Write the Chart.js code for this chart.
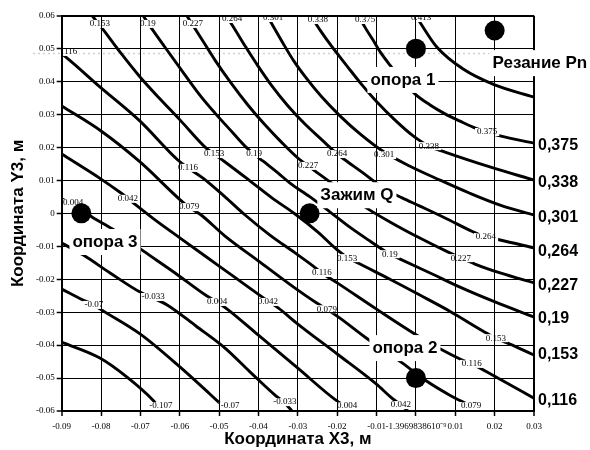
<!DOCTYPE html>
<html>
<head>
<meta charset="utf-8">
<script src="https://cdn.jsdelivr.net/npm/chart.js@4/dist/chart.umd.min.js"></script>
<style>
  body { margin: 0; background: #fff; }
  #wrap { width: 590px; height: 450px; }
</style>
</head>
<body>
<div id="wrap"><canvas id="chart" width="590" height="450"></canvas></div>
<script>
// Axis ticks
const xTicks = [-0.09, -0.08, -0.07, -0.06, -0.05, -0.04, -0.03, -0.02, -0.01, 0, 0.01, 0.02, 0.03];
const xTickLabels = ['-0.09', '-0.08', '-0.07', '-0.06', '-0.05', '-0.04', '-0.03', '-0.02', '-0.01', '-1.3969838610\u207B\u2079', '0.01', '0.02', '0.03'];
const yTicks = [-0.06, -0.05, -0.04, -0.03, -0.02, -0.01, 0, 0.01, 0.02, 0.03, 0.04, 0.05, 0.06];
const yTickLabels = ['-0.06', '-0.05', '-0.04', '-0.03', '-0.02', '-0.01', '0', '0.01', '0.02', '0.03', '0.04', '0.05', '0.06'];

// Contour lines, traced as [x, y]
const line_413 = [[0.0000, 0.0600], [0.0013, 0.0575], [0.0053, 0.0505], [0.0120, 0.0438], [0.0200, 0.0390], [0.0300, 0.0353]];
const line_375 = [[-0.0145, 0.0600], [-0.0130, 0.0566], [-0.0109, 0.0526], [-0.0089, 0.0487], [-0.0066, 0.0450], [-0.0035, 0.0405], [-0.0002, 0.0362], [0.0036, 0.0329], [0.0074, 0.0302], [0.0112, 0.0280], [0.0145, 0.0262], [0.0181, 0.0247], [0.0214, 0.0235], [0.0300, 0.0213]];
const line_338 = [[-0.0267, 0.0600], [-0.0244, 0.0557], [-0.0211, 0.0502], [-0.0175, 0.0447], [-0.0137, 0.0390], [-0.0099, 0.0338], [-0.0053, 0.0283], [-0.0007, 0.0235], [0.0033, 0.0204], [0.0074, 0.0186], [0.0188, 0.0141], [0.0300, 0.0101]];
const line_301 = [[-0.0378, 0.0600], [-0.0363, 0.0569], [-0.0338, 0.0517], [-0.0310, 0.0462], [-0.0277, 0.0408], [-0.0239, 0.0353], [-0.0193, 0.0296], [-0.0142, 0.0241], [-0.0081, 0.0186], [-0.0015, 0.0143], [0.0061, 0.0101], [0.0137, 0.0061], [0.0214, 0.0025], [0.0300, -0.0005]];
const line_264 = [[-0.0483, 0.0600], [-0.0467, 0.0572], [-0.0434, 0.0508], [-0.0401, 0.0447], [-0.0366, 0.0387], [-0.0325, 0.0326], [-0.0282, 0.0271], [-0.0239, 0.0223], [-0.0200, 0.0180], [-0.0173, 0.0156], [-0.0137, 0.0125], [-0.0104, 0.0095], [-0.0066, 0.0065], [-0.0035, 0.0047], [0.0010, 0.0022], [0.0074, -0.0014], [0.0145, -0.0056], [0.0178, -0.0072], [0.0214, -0.0081], [0.0300, -0.0105]];
const line_227 = [[-0.0582, 0.0600], [-0.0564, 0.0566], [-0.0538, 0.0517], [-0.0511, 0.0466], [-0.0470, 0.0396], [-0.0427, 0.0329], [-0.0383, 0.0268], [-0.0340, 0.0214], [-0.0300, 0.0168], [-0.0274, 0.0144], [-0.0249, 0.0122], [-0.0211, 0.0089], [-0.0168, 0.0053], [-0.0129, 0.0019], [-0.0066, -0.0026], [0.0010, -0.0075], [0.0086, -0.0120], [0.0114, -0.0135], [0.0150, -0.0154], [0.0214, -0.0181], [0.0300, -0.0211]];
const line_19 = [[-0.0693, 0.0600], [-0.0676, 0.0569], [-0.0638, 0.0505], [-0.0592, 0.0429], [-0.0549, 0.0359], [-0.0511, 0.0305], [-0.0467, 0.0247], [-0.0429, 0.0198], [-0.0411, 0.0180], [-0.0389, 0.0159], [-0.0350, 0.0122], [-0.0320, 0.0092], [-0.0269, 0.0050], [-0.0218, 0.0004], [-0.0168, -0.0042], [-0.0117, -0.0084], [-0.0066, -0.0124], [-0.0040, -0.0139], [0.0036, -0.0181], [0.0112, -0.0224], [0.0201, -0.0269], [0.0300, -0.0315]];
const line_153 = [[-0.0823, 0.0600], [-0.0798, 0.0563], [-0.0752, 0.0490], [-0.0701, 0.0414], [-0.0650, 0.0347], [-0.0599, 0.0283], [-0.0533, 0.0198], [-0.0513, 0.0180], [-0.0485, 0.0156], [-0.0421, 0.0098], [-0.0366, 0.0047], [-0.0307, -0.0002], [-0.0249, -0.0057], [-0.0200, -0.0111], [-0.0175, -0.0133], [-0.0142, -0.0154], [-0.0066, -0.0200], [0.0010, -0.0248], [0.0086, -0.0297], [0.0170, -0.0357], [0.0203, -0.0379], [0.0239, -0.0397], [0.0300, -0.0430]];
const line_116 = [[-0.0900, 0.0484], [-0.0887, 0.0472], [-0.0803, 0.0384], [-0.0701, 0.0280], [-0.0605, 0.0162], [-0.0579, 0.0138], [-0.0541, 0.0107], [-0.0485, 0.0050], [-0.0434, -0.0005], [-0.0371, -0.0066], [-0.0307, -0.0120], [-0.0261, -0.0160], [-0.0239, -0.0181], [-0.0200, -0.0211], [-0.0101, -0.0290], [-0.0007, -0.0363], [0.0067, -0.0415], [0.0112, -0.0442], [0.0142, -0.0457], [0.0199, -0.0494], [0.0300, -0.0561]];
const line_079 = [[-0.0900, 0.0326], [-0.0800, 0.0250], [-0.0701, 0.0156], [-0.0599, 0.0041], [-0.0577, 0.0019], [-0.0549, -0.0002], [-0.0485, -0.0069], [-0.0396, -0.0148], [-0.0307, -0.0227], [-0.0256, -0.0269], [-0.0226, -0.0291], [-0.0193, -0.0318], [-0.0129, -0.0376], [-0.0035, -0.0454], [0.0023, -0.0506], [0.0086, -0.0552], [0.0140, -0.0585], [0.0163, -0.0600]];
const line_042 = [[-0.0900, 0.0180], [-0.0800, 0.0104], [-0.0752, 0.0064], [-0.0732, 0.0046], [-0.0714, 0.0028], [-0.0668, -0.0015], [-0.0599, -0.0075], [-0.0500, -0.0160], [-0.0401, -0.0245], [-0.0376, -0.0266], [-0.0350, -0.0287], [-0.0300, -0.0336], [-0.0200, -0.0427], [-0.0101, -0.0518], [-0.0061, -0.0561], [-0.0038, -0.0582], [-0.0020, -0.0600]];
const line_004 = [[-0.0900, 0.0044], [-0.0846, 0.0008], [-0.0823, -0.0011], [-0.0772, -0.0047], [-0.0732, -0.0081], [-0.0693, -0.0114], [-0.0612, -0.0181], [-0.0531, -0.0251], [-0.0505, -0.0269], [-0.0477, -0.0293], [-0.0401, -0.0369], [-0.0300, -0.0470], [-0.0200, -0.0570], [-0.0175, -0.0588], [-0.0165, -0.0600]];
const line_m033 = [[-0.0900, -0.0090], [-0.0846, -0.0126], [-0.0777, -0.0181], [-0.0701, -0.0239], [-0.0668, -0.0257], [-0.0632, -0.0278], [-0.0559, -0.0342], [-0.0485, -0.0409], [-0.0421, -0.0482], [-0.0358, -0.0552], [-0.0333, -0.0576], [-0.0315, -0.0600]];
const line_m07 = [[-0.0900, -0.0230], [-0.0846, -0.0263], [-0.0818, -0.0278], [-0.0803, -0.0290], [-0.0701, -0.0366], [-0.0599, -0.0467], [-0.0523, -0.0549], [-0.0477, -0.0600]];
const line_m107 = [[-0.0900, -0.0391], [-0.0803, -0.0439], [-0.0734, -0.0497], [-0.0668, -0.0567], [-0.0645, -0.0600]];

const levels = ['0.413', '0.375', '0.338', '0.301', '0.264', '0.227', '0.19', '0.153', '0.116', '0.079', '0.042', '0.004', '-0.033', '-0.07', '-0.107'];
const contours = [line_413, line_375, line_338, line_301, line_264, line_227, line_19, line_153, line_116, line_079, line_042, line_004, line_m033, line_m07, line_m107];

// Supports, clamp and cutting force points
const pointX = [-0.085, -0.027, 0, 0, 0.02];
const pointY = [0, 0, -0.05, 0.05, 0.0555];

// dotted grey line near y = 0.05
const dashX = [-0.0973, 0.019];
const dashY = 0.0485;

// level values printed right of the plot
const sideLabels = ['0,375', '0,338', '0,301', '0,264', '0,227', '0,19', '0,153', '0,116'];
const sideY = [0.0207, 0.0092, -0.0014, -0.0117, -0.0218, -0.0318, -0.0430, -0.0567];

// Captions [text, x, y]
const notes = [
  ['опора 1', -0.0033, 0.0405],
  ['опора 2', -0.0028, -0.0409],
  ['опора 3', -0.0790, -0.0087],
  ['Зажим Q', -0.0150, 0.0055],
  ['Резание Pn', 0.0315, 0.0456]
];

// Inline contour labels [text, x, y]
const contourLabels = [
  ['0.153', -0.0803, 0.0575], ['0.19', -0.0681, 0.0575], ['0.227', -0.0567, 0.0575], ['0.264', -0.0467, 0.059],
  ['0.301', -0.0363, 0.0593], ['0.338', -0.0249, 0.0587], ['0.375', -0.0129, 0.0587], ['0.413', 0.0013, 0.0593],
  ['0.116', -0.0886, 0.049], ['0.116', -0.0579, 0.0138], ['0.116', -0.0239, -0.0181], ['0.116', 0.0142, -0.0457],
  ['0.153', -0.0513, 0.018], ['0.153', -0.0175, -0.0136], ['0.153', 0.0203, -0.0379],
  ['0.19', -0.0411, 0.018], ['0.19', -0.0066, -0.0124],
  ['0.227', -0.0274, 0.0144], ['0.227', 0.0114, -0.0136],
  ['0.264', -0.0200, 0.018], ['0.264', 0.0178, -0.0072],
  ['0.301', -0.0081, 0.0177], ['0.338', 0.0033, 0.0204], ['0.375', 0.0181, 0.0247],
  ['0.079', -0.0576, 0.0019], ['0.079', -0.0226, -0.0291], ['0.079', 0.0140, -0.0585],
  ['0.042', -0.0732, 0.0044], ['0.042', -0.0376, -0.0269], ['0.042', -0.0038, -0.0582],
  ['0.004', -0.0871, 0.0031], ['0.004', -0.0505, -0.0269], ['0.004', -0.0175, -0.0585],
  ['-0.033', -0.0668, -0.0254], ['-0.033', -0.0333, -0.0573],
  ['-0.07', -0.0818, -0.0278], ['-0.07', -0.0472, -0.0585],
  ['-0.107', -0.0648, -0.0585]
];

const datasets = contours.map((pts, i) => ({
  label: levels[i],
  data: pts.map(([x, y]) => ({ x, y })),
  showLine: true,
  borderColor: '#000',
  borderWidth: 2.9,
  pointRadius: 0,
  cubicInterpolationMode: 'monotone',
  order: 1
}));

datasets.push({
  label: 'dash',
  data: dashX.map(x => ({ x, y: dashY })),
  showLine: true,
  borderColor: '#cfcfcf',
  borderWidth: 1.5,
  borderDash: [2, 3],
  pointRadius: 0,
  clip: false,
  order: 2
});

const dotsIndex = datasets.length;
datasets.push({
  label: 'points',
  data: pointX.map((x, i) => ({ x, y: pointY[i] })),
  showLine: false,
  pointRadius: 10,
  pointHoverRadius: 10,
  pointBackgroundColor: '#000',
  pointBorderWidth: 0,
  order: 0
});

const serif = '"Liberation Serif", "Times New Roman", serif';
const sans = '"Liberation Sans", Arial, sans-serif';

// contour labels go under the dots, notes go over everything
const textPlugin = {
  id: 'contourText',
  beforeDatasetDraw(chart, args) {
    if (args.index !== dotsIndex) return;
    const { ctx, chartArea, scales: { x, y } } = chart;
    ctx.save();
    ctx.beginPath();
    ctx.rect(chartArea.left, chartArea.top, chartArea.right - chartArea.left, chartArea.bottom - chartArea.top);
    ctx.clip();
    ctx.font = '9px ' + serif;
    ctx.textAlign = 'center';
    ctx.textBaseline = 'middle';
    contourLabels.forEach(([t, vx, vy]) => {
      const px = x.getPixelForValue(vx);
      const py = y.getPixelForValue(vy);
      const w = ctx.measureText(t).width;
      ctx.fillStyle = '#fff';
      ctx.fillRect(px - w / 2 - 2, py - 4, w + 4, 8);
      ctx.fillStyle = '#000';
      ctx.fillText(t, px, py);
    });
    ctx.restore();
  },
  afterDraw(chart) {
    const { ctx, chartArea, scales: { x, y } } = chart;
    ctx.save();
    ctx.font = 'bold 17px ' + sans;
    ctx.textAlign = 'center';
    ctx.textBaseline = 'middle';
    notes.forEach(([t, vx, vy]) => {
      const px = x.getPixelForValue(vx);
      const py = y.getPixelForValue(vy);
      const w = ctx.measureText(t).width;
      ctx.fillStyle = '#fff';
      ctx.fillRect(px - w / 2 - 3, py - 13, w + 6, 26);
      ctx.fillStyle = '#000';
      ctx.fillText(t, px, py);
    });
    ctx.font = 'bold 16px ' + sans;
    ctx.textAlign = 'left';
    sideLabels.forEach((t, i) => {
      ctx.fillText(t, chartArea.right + 4, y.getPixelForValue(sideY[i]));
    });
    ctx.restore();
  }
};

const edgeWidth = n => c => (c.index === 0 || c.index === n - 1) ? 2 : 1;

new Chart(document.getElementById('chart'), {
  type: 'scatter',
  data: { datasets },
  options: {
    responsive: false,
    devicePixelRatio: 1,
    animation: false,
    events: [],
    layout: { padding: { top: 15.7, right: 56, bottom: 0, left: 0 } },
    plugins: { legend: { display: false }, tooltip: { enabled: false } },
    scales: {
      x: {
        type: 'linear',
        position: 'bottom',
        min: -0.09,
        max: 0.03,
        afterBuildTicks: s => { s.ticks = xTicks.map(v => ({ value: v })); },
        afterFit: s => { s.height = 39; },
        ticks: {
          autoSkip: false,
          maxRotation: 0,
          minRotation: 0,
          padding: 5,
          color: '#000',
          font: { family: serif, size: 9 },
          callback: (v, i) => xTickLabels[i]
        },
        grid: { color: '#000', lineWidth: edgeWidth(xTicks.length), tickLength: 5, tickWidth: 1.5, z: 1 },
        border: { color: '#000', width: 2, z: 1 },
        title: {
          display: true,
          text: 'Координата X3, м',
          color: '#000',
          font: { family: sans, size: 17, weight: 'bold' },
          padding: { top: 0, bottom: 0 }
        }
      },
      y: {
        type: 'linear',
        position: 'left',
        min: -0.06,
        max: 0.06,
        afterBuildTicks: s => { s.ticks = yTicks.map(v => ({ value: v })); },
        afterFit: s => { s.width = 61.7; },
        ticks: {
          autoSkip: false,
          padding: 2,
          color: '#000',
          font: { family: serif, size: 9 },
          callback: (v, i) => yTickLabels[i]
        },
        grid: { color: '#000', lineWidth: edgeWidth(yTicks.length), tickLength: 5, tickWidth: 1.5, z: 1 },
        border: { color: '#000', width: 2, z: 1 },
        title: {
          display: true,
          text: 'Координата Y3, м',
          color: '#000',
          font: { family: sans, size: 17, weight: 'bold' },
          padding: { top: 8, bottom: 0 }
        }
      }
    }
  },
  plugins: [textPlugin]
});
</script>
</body>
</html>
